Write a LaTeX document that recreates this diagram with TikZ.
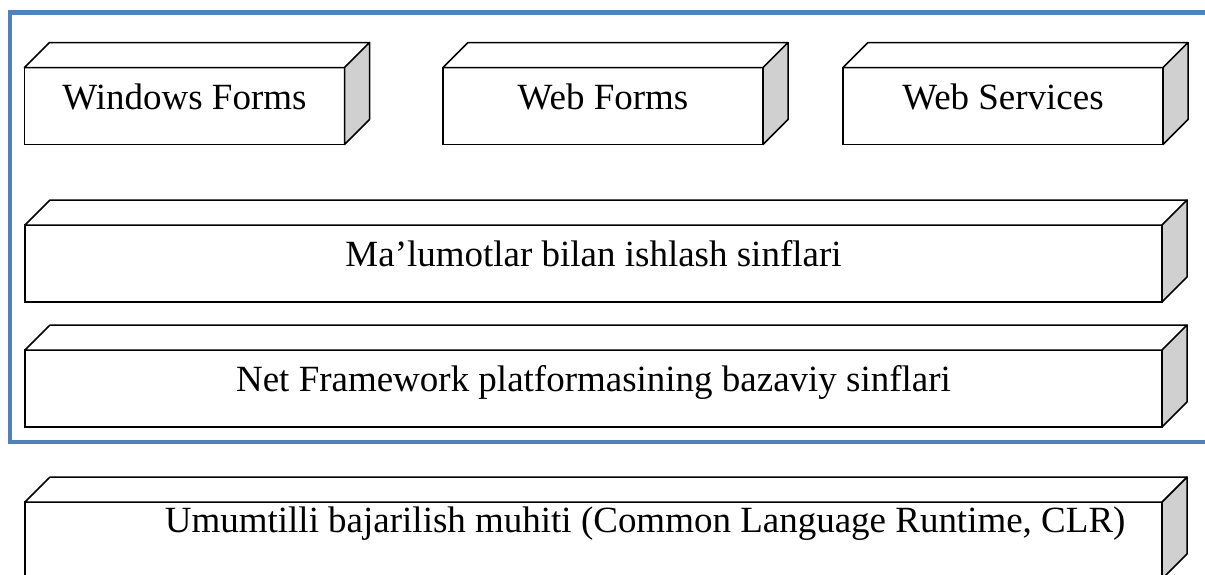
\documentclass[tikz,border=0pt]{standalone}
\usepackage{fontspec}
\setmainfont{Liberation Serif}
\usetikzlibrary{calc}
\definecolor{framecol}{RGB}{79,129,189}
\definecolor{sidecol}{RGB}{208,208,208}

\begin{document}
\begin{tikzpicture}[
    x=0.025cm, y=-0.025cm,
    cube/.style={rectangle, draw, fill=white, line width=1.1pt, outer sep=0pt, inner sep=2pt,
        minimum height=1.92cm, text height=0.4cm, text depth=0.25cm,
        font=\fontsize{26.3}{31}\selectfont},
    small/.style={cube, minimum width=8cm},
    wide/.style={cube, minimum width=28.42cm},
    face/.style={draw, line width=1.1pt, line join=round},
    frame/.style={draw=framecol, line width=3.2pt}
]
    \useasboundingbox (0,0) rectangle (1205,574);
    \clip (0,0) rectangle (1205,574);

    % blue frame round the upper layers
    \draw[frame] (1215,12.5) -| (10,442) -- (1215,442);

    \node[small] (winforms) at (184.5,106) {Windows Forms};
    \node[small] (webforms) at (603,106) {Web Forms};
    \node[small] (websrv) at (1003,106) {Web Services};
    \node[wide] (datacls) at (593.5,263.5) {Ma’lumotlar bilan ishlash sinflari};
    \node[wide] (basecls) at (593.5,388.5) {Net Framework platformasining bazaviy sinflari};
    \node[wide, text depth=0.8cm] (clr) at (593.5,540.5)
        {\hspace*{2.58cm}Umumtilli bajarilish muhiti (Common Language Runtime, CLR)};

    % top and side faces
    \foreach \n in {winforms,webforms,websrv,datacls,basecls,clr} {
        \draw[face, fill=white] (\n.north west) -- ++(25,-25) -- ($(\n.north east)+(25,-25)$) -- (\n.north east) -- cycle;
        \draw[face, fill=sidecol] (\n.north east) -- ++(25,-25) -- ($(\n.south east)+(25,-25)$) -- (\n.south east) -- cycle;
    }
\end{tikzpicture}
\end{document}
